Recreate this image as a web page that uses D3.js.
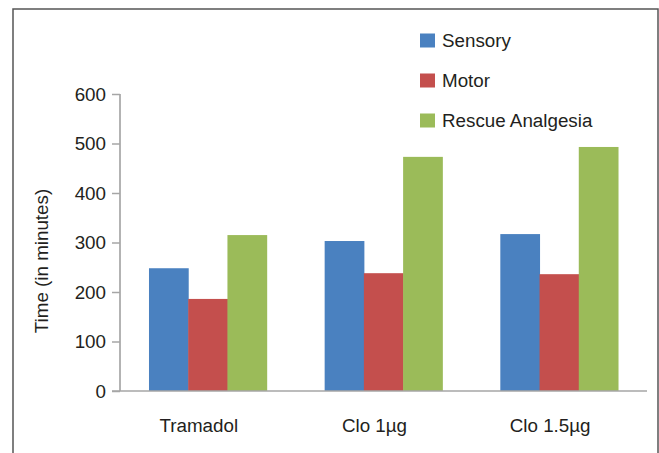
<!DOCTYPE html>
<html>
<head>
<meta charset="utf-8">
<script src="https://cdn.jsdelivr.net/npm/d3@7"></script>
<style>
  body { margin: 0; background: #fff; }
  text { font-family: "Liberation Sans", Arial, sans-serif; fill: #231f20; }
</style>
</head>
<body>
<script>
var w = 659;
var h = 453;
var fontSize = "18.8px";

var groups = ["Tramadol", "Clo 1\u00b5g", "Clo 1.5\u00b5g"];
var seriesNames = ["Sensory", "Motor", "Rescue Analgesia"];
var sensory = [248, 303, 317];
var motor = [186, 238, 236];
var rescue = [315, 473, 493];
var colors = ["#4a81c0", "#c44f4d", "#9bbb59"];
var yTicks = [0, 100, 200, 300, 400, 500, 600];

var seriesValues = [sensory, motor, rescue];

var svg = d3.select("body")
    .append("svg")
    .attr("width", w)
    .attr("height", h);

// outer frame (no bottom edge)
svg.append("path")
    .attr("d", "M13,453 V9 H658 V453")
    .attr("fill", "none")
    .attr("stroke", "#555")
    .attr("stroke-width", 1.5);

var x0 = d3.scaleBand()
    .domain(groups)
    .range([120, 647])
    .paddingInner(0.33)
    .paddingOuter(0.165);

var x1 = d3.scaleBand()
    .domain(d3.range(seriesNames.length))
    .range([0, x0.bandwidth()]);

var y = d3.scaleLinear()
    .domain([0, 600])
    .range([391, 94]);

// bars
var groupSel = svg.selectAll("g.grp")
    .data(groups)
    .enter()
    .append("g")
    .attr("class", "grp")
    .attr("transform", function (d) { return "translate(" + x0(d) + ",0)"; });

groupSel.selectAll("rect")
    .data(function (d, gi) {
        return seriesValues.map(function (vals, si) { return { si: si, v: vals[gi] }; });
    })
    .enter()
    .append("rect")
    .attr("x", function (d) { return x1(d.si); })
    .attr("y", function (d) { return y(d.v); })
    .attr("width", x1.bandwidth() + 0.5)
    .attr("height", function (d) { return y(0) - y(d.v); })
    .attr("fill", function (d) { return colors[d.si]; });

// y axis
var yAxis = d3.axisLeft(y)
    .tickValues(yTicks)
    .tickSize(8)
    .tickPadding(6);

var yAxisGroup = svg.append("g")
    .attr("transform", "translate(120,0)")
    .call(yAxis);
yAxisGroup.select(".domain").remove();
yAxisGroup.selectAll(".tick line").attr("stroke", "#a6a6a6").attr("stroke-width", 1.5);
yAxisGroup.selectAll(".tick text")
    .style("font-size", fontSize)
    .style("font-family", "'Liberation Sans', Arial, sans-serif")
    .attr("fill", "#231f20");

svg.append("line")
    .attr("x1", 120).attr("x2", 120)
    .attr("y1", y(600)).attr("y2", y(0))
    .attr("stroke", "#a6a6a6")
    .attr("stroke-width", 1.7);

// x axis
svg.append("line")
    .attr("x1", 112).attr("x2", 647)
    .attr("y1", y(0)).attr("y2", y(0))
    .attr("stroke", "#a6a6a6")
    .attr("stroke-width", 1.7);

svg.selectAll("text.xlab")
    .data(groups)
    .enter()
    .append("text")
    .attr("class", "xlab")
    .attr("x", function (d) { return x0(d) + x0.bandwidth() / 2 - 9; })
    .attr("y", 432)
    .attr("text-anchor", "middle")
    .style("font-size", fontSize)
    .text(function (d) { return d; });

// y axis title
svg.append("text")
    .attr("transform", "translate(48,261) rotate(-90)")
    .attr("text-anchor", "middle")
    .style("font-size", fontSize)
    .text("Time (in minutes)");

// legend
var legend = svg.selectAll("g.leg")
    .data(seriesNames)
    .enter()
    .append("g")
    .attr("class", "leg")
    .attr("transform", function (d, i) { return "translate(420," + (40.5 + i * 40) + ")"; });

legend.append("rect")
    .attr("x", 0)
    .attr("y", -7)
    .attr("width", 15)
    .attr("height", 14)
    .attr("fill", function (d, i) { return colors[i]; });

legend.append("text")
    .attr("x", 22)
    .attr("y", 6.5)
    .style("font-size", fontSize)
    .text(function (d) { return d; });
</script>
</body>
</html>
